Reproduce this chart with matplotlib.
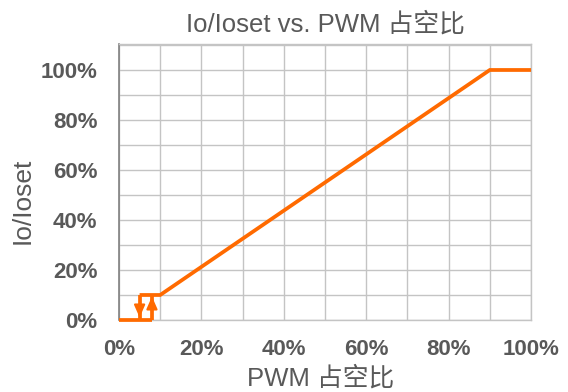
import matplotlib
matplotlib.use("Agg")
import matplotlib.pyplot as plt
from matplotlib.ticker import FuncFormatter, MultipleLocator

plt.rcParams['font.family'] = ['Liberation Sans', 'Noto Sans CJK SC', 'DejaVu Sans']

# Duty-cycle (%) vs. output ratio (%)
lower_x = [0, 8]
lower_y = [0, 0]
rise_x = [8, 8]
rise_y = [0, 10]
upper_x = [5, 10, 90, 100]
upper_y = [10, 10, 100, 100]
drop_x = [5, 5]
drop_y = [10, 0]

x_ticks = [0, 20, 40, 60, 80, 100]
y_ticks = [0, 20, 40, 60, 80, 100]

title = "Io/Ioset vs. PWM 占空比"
x_label = "PWM 占空比"
y_label = "Io/Ioset"

orange = "#FF6A00"
text_gray = "#595959"

fig = plt.figure(figsize=(5.68, 3.92), dpi=100)
ax = fig.add_axes([0.2095, 0.1837, 0.7254, 0.7041])

lw = 2.7
for xs, ys in [(lower_x, lower_y), (rise_x, rise_y), (upper_x, upper_y), (drop_x, drop_y)]:
    ax.plot(xs, ys, color=orange, lw=lw, solid_capstyle='butt', solid_joinstyle='miter', zorder=3, clip_on=False)

# Direction arrows on the hysteresis verticals
head = '-|>,head_length=0.75,head_width=0.33'
ax.annotate("", xy=(drop_x[1], 1.0), xytext=(drop_x[0], 6),
            arrowprops=dict(arrowstyle=head, color=orange, lw=1.5, shrinkA=0, shrinkB=0), zorder=4)
ax.annotate("", xy=(rise_x[1], 9.4), xytext=(rise_x[0], 4),
            arrowprops=dict(arrowstyle=head, color=orange, lw=1.5, shrinkA=0, shrinkB=0), zorder=4)

ax.set_xlim(0, 100)
ax.set_ylim(0, 110.4)
ax.xaxis.set_minor_locator(MultipleLocator(10))
ax.yaxis.set_minor_locator(MultipleLocator(10))
ax.set_xticks(x_ticks)
ax.set_yticks(y_ticks)
fmt = FuncFormatter(lambda v, p: f"{v:.0f}%")
ax.xaxis.set_major_formatter(fmt)
ax.yaxis.set_major_formatter(fmt)

ax.grid(True, which='both', color='#c4c4c4', lw=1.0)
ax.set_axisbelow(True)
ax.tick_params(which='both', length=0)
ax.tick_params(axis='x', pad=14, labelsize=16, labelcolor=text_gray)
ax.tick_params(axis='y', pad=15.5, labelsize=16, labelcolor=text_gray)
for lab in ax.get_xticklabels() + ax.get_yticklabels():
    lab.set_fontweight('bold')

for side in ['top', 'right', 'bottom']:
    ax.spines[side].set_color('#c4c4c4')
    ax.spines[side].set_linewidth(1.0)
ax.spines['left'].set_color('#808080')
ax.spines['left'].set_linewidth(1.2)

ax.set_title(title, fontsize=18.5, color=text_gray, pad=9)
ax.set_xlabel(x_label, fontsize=18.5, color=text_gray)
ax.set_ylabel(y_label, fontsize=19, color=text_gray)
ax.xaxis.set_label_coords(0.49, -0.168)
ax.yaxis.set_label_coords(-0.205, 0.43)

fig.savefig("out.png", dpi=100)
